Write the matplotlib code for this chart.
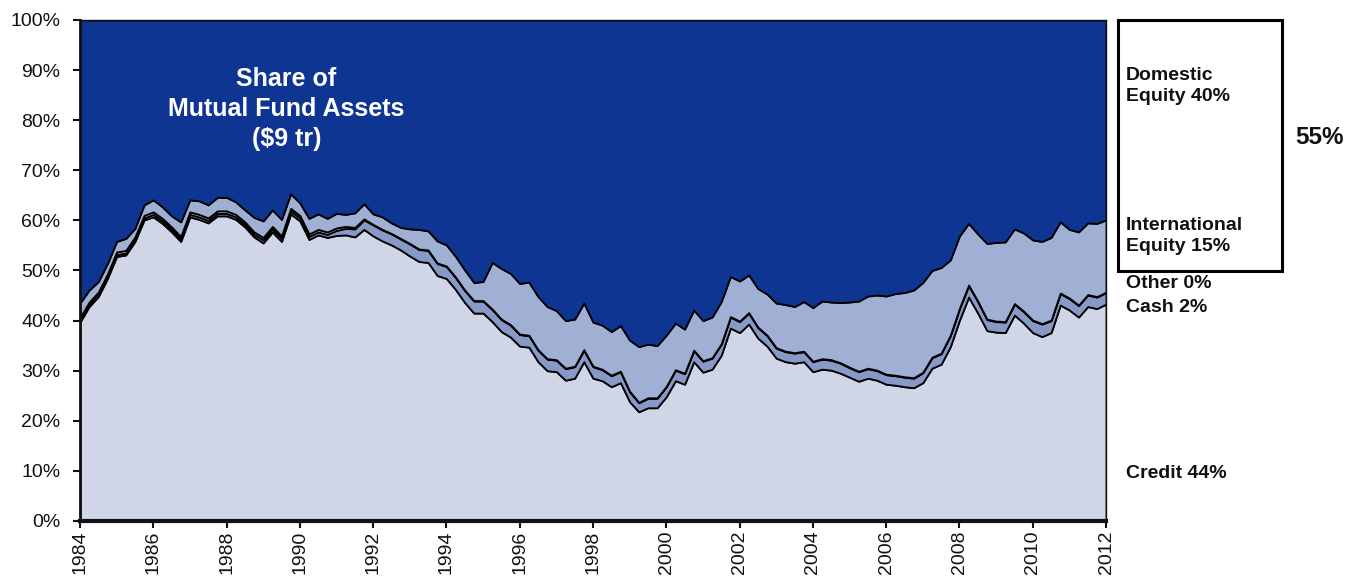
import numpy as np
import matplotlib
matplotlib.use("Agg")
import matplotlib.pyplot as plt
from matplotlib.patches import Rectangle

plt.rcParams["font.family"] = ["Liberation Sans", "DejaVu Sans"]

# quarterly shares of mutual fund assets (%), 1984Q1 .. 2012Q1
START_YEAR = 1984
credit = [39.7, 42.8, 44.8, 48.4, 52.8, 53.1, 55.8, 60.1, 60.7, 59.4,
          57.7, 55.8, 60.7, 60.2, 59.5, 60.9, 60.9, 60.2, 58.7, 56.7,
          55.5, 57.7, 55.8, 61.3, 59.9, 56.2, 57.1, 56.6, 57.0, 57.1,
          56.7, 58.2, 56.9, 55.9, 55.1, 54.1, 52.9, 51.8, 51.6, 49.0,
          48.4, 46.2, 43.6, 41.5, 41.5, 39.8, 37.8, 36.7, 34.9, 34.7,
          31.8, 30.0, 29.8, 28.1, 28.5, 31.8, 28.5, 28.0, 26.8, 27.6,
          23.8, 21.8, 22.6, 22.6, 24.8, 28.0, 27.3, 31.8, 29.7, 30.3,
          33.1, 38.5, 37.6, 39.3, 36.5, 34.9, 32.5, 31.8, 31.5, 31.8,
          29.8, 30.3, 30.1, 29.5, 28.7, 27.9, 28.5, 28.1, 27.3, 27.1,
          26.8, 26.6, 27.6, 30.5, 31.3, 34.8, 40.1, 44.7, 41.5, 38.0,
          37.7, 37.6, 41.1, 39.5, 37.6, 36.8, 37.6, 43.1, 42.1, 40.7,
          42.8, 42.4, 43.3]
cash = [0.4, 0.4, 0.4, 0.4, 0.4, 0.4, 0.4, 0.4, 0.5, 0.5,
        0.5, 0.5, 0.5, 0.5, 0.5, 0.5, 0.5, 0.5, 0.5, 0.5,
        0.6, 0.6, 0.6, 0.6, 0.6, 0.6, 0.6, 0.6, 1.0, 1.3,
        1.6, 1.9, 2.2, 2.2, 2.2, 2.2, 2.4, 2.4, 2.4, 2.4,
        2.4, 2.4, 2.4, 2.4, 2.4, 2.4, 2.4, 2.4, 2.3, 2.3,
        2.3, 2.3, 2.3, 2.3, 2.3, 2.3, 2.3, 2.2, 2.2, 2.2,
        2.0, 1.8, 1.9, 1.9, 2.0, 2.1, 2.1, 2.2, 2.2, 2.2,
        2.2, 2.2, 2.2, 2.2, 2.1, 2.1, 2.0, 2.0, 2.0, 2.0,
        2.0, 2.0, 2.0, 2.0, 1.9, 1.9, 1.9, 1.9, 1.9, 1.9,
        1.9, 1.9, 2.0, 2.1, 2.1, 2.2, 2.3, 2.3, 2.3, 2.2,
        2.1, 2.1, 2.2, 2.3, 2.4, 2.5, 2.4, 2.3, 2.3, 2.3,
        2.3, 2.3, 2.3]
other = [0.5] * 28 + [0.5, 0.4, 0.3, 0.2] + [0.1] * 81
domestic = [56.5, 53.9, 52.2, 48.6, 44.2, 43.6, 41.6, 36.9, 35.9, 37.3,
            39.1, 40.3, 35.9, 36.1, 36.9, 35.4, 35.4, 36.3, 37.9, 39.4,
            40.1, 37.9, 39.8, 34.7, 36.5, 39.6, 38.7, 39.6, 38.6, 38.8,
            38.5, 36.7, 38.7, 39.3, 40.5, 41.4, 41.7, 41.8, 42.1, 44.1,
            44.9, 47.2, 49.9, 52.4, 52.2, 48.4, 49.6, 50.6, 52.6, 52.3,
            55.2, 57.2, 58.0, 60.0, 59.7, 56.5, 60.3, 60.9, 62.2, 61.0,
            63.9, 65.2, 64.7, 65.0, 62.9, 60.5, 61.7, 57.9, 60.0, 59.3,
            56.2, 51.2, 52.1, 50.9, 53.6, 54.7, 56.5, 56.8, 57.2, 56.2,
            57.4, 56.1, 56.3, 56.4, 56.3, 56.1, 55.1, 54.9, 55.1, 54.6,
            54.4, 53.9, 52.4, 50.0, 49.4, 47.9, 43.1, 40.6, 42.7, 44.6,
            44.4, 44.3, 41.7, 42.5, 43.9, 44.2, 43.4, 40.3, 41.8, 42.3,
            40.5, 40.6, 39.9]

credit, cash, other, domestic = map(np.array, (credit, cash, other, domestic))
intl = 100 - credit - cash - other - domestic
years = START_YEAR + np.arange(len(credit)) / 4

COLORS = ["#d0d6e8", "#8799c6", "#dcdcdc", "#a0b0d4", "#0e3591"]
INK = "#111111"

fig = plt.figure(figsize=(13.48, 5.79), dpi=100)
ax = fig.add_axes([0.0593, 0.1002, 0.7612, 0.8653])
ax.stackplot(years, credit, cash, other, intl, domestic, colors=COLORS,
             edgecolor="black", linewidth=1.3)

ax.set_xlim(1984, 2012); ax.set_ylim(0, 100)
ax.set_xticks(np.arange(1984, 2013, 2))
ax.set_xticklabels([str(y) for y in range(1984, 2013, 2)], rotation=90, fontsize=14)
ax.set_yticks(np.arange(0, 101, 10))
ax.set_yticklabels([f"{v}%" for v in range(0, 101, 10)], fontsize=14)
ax.tick_params(axis="both", direction="out", length=5, width=1.5, colors=INK)
ax.tick_params(axis="y", pad=9)
ax.tick_params(axis="x", pad=2)
ax.spines["left"].set_linewidth(2); ax.spines["bottom"].set_linewidth(3)
ax.spines["top"].set_linewidth(1); ax.spines["right"].set_linewidth(1)
for s in ax.spines.values():
    s.set_color(INK)

ax.text(1989.64, 82.2, "Share of\nMutual Fund Assets\n($9 tr)", color="white",
        fontsize=18, fontweight="bold", ha="center", va="center", linespacing=1.3)

# series labels to the right of the plot
tx = 1126 / 1348
def lab(y_px, s, **kw):
    fig.text(tx, 1 - y_px / 579, s, fontsize=14, fontweight="bold", color=INK,
             va="center", ha="left", linespacing=1.35, **kw)

lab(86, "Domestic\nEquity 40%")
lab(236, "International\nEquity 15%")
lab(284, "Other 0%")
lab(307, "Cash 2%")
lab(474, "Credit 44%")
fig.text(1320 / 1348, 1 - 137 / 579, "55%", fontsize=17.5, fontweight="bold",
         color=INK, ha="center", va="center")
fig.patches.append(Rectangle((1118 / 1348, 1 - 271 / 579), 164 / 1348, 251 / 579,
                             transform=fig.transFigure, fill=False,
                             edgecolor="black", linewidth=2.2))

fig.savefig("out.png", dpi=100, facecolor="white")
